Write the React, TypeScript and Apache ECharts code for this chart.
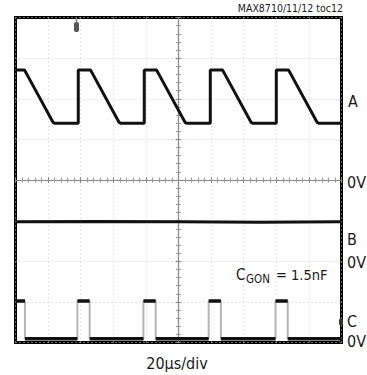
import React, { useEffect, useRef } from "react";
import * as echarts from "echarts";

// Time in µs relative to screen centre (10 div x 20µs/div), values in divisions
const aTimes = [-100, -94.5, -93, -77, -76, -61.5, -61.5, -54, -52.5, -36.5, -35.5, -21, -21, -13.5, -12, 4, 5, 19.5, 19.5, 27, 28.5, 44.5, 45.5, 60, 60, 67.5, 69, 85, 86, 100];
const aVolts = [2.71, 2.71, 2.6, 1.42, 1.4, 1.4, 2.71, 2.71, 2.6, 1.42, 1.4, 1.4, 2.71, 2.71, 2.6, 1.42, 1.4, 1.4, 2.71, 2.71, 2.6, 1.42, 1.4, 1.4, 2.71, 2.71, 2.6, 1.42, 1.4, 1.4];

const bTimes = [-100, -50, 0, 50, 100];
const bVolts = [-1.03, -1.02, -1.03, -1.04, -1.03];

const cTimes = [-100, -94.2, -94.2, -62, -62, -54.5, -54.5, -21.5, -21.5, -14, -14, 18.5, 18.5, 26, 26, 59.5, 59.5, 67, 67, 100];
const cVolts = [-2.98, -2.98, -3.91, -3.91, -2.98, -2.98, -3.91, -3.91, -2.98, -2.98, -3.91, -3.91, -2.98, -2.98, -3.91, -3.91, -2.98, -2.98, -3.91, -3.91];

const xTicks = { min: -100, max: 100, interval: 20 };
const yTicks = { min: -4, max: 4, interval: 1 };

const FONT = "'Liberation Sans Narrow', 'DejaVu Sans Condensed', 'Liberation Sans', Arial, sans-serif";

export default function App() {
  const ref = useRef<HTMLDivElement>(null);
  useEffect(() => {
    if (!ref.current) return;
    const chart = echarts.init(ref.current, undefined, { renderer: "svg" });

    const pairs = (ts: number[], vs: number[]) => ts.map((t, i) => [t, vs[i]]);
    // horizontal segments of C drawn in black, with gaps between
    const cFlat: any[] = [];
    for (let i = 0; i < cTimes.length - 1; i++) {
      if (cVolts[i] === cVolts[i + 1]) {
        cFlat.push([cTimes[i], cVolts[i]], [cTimes[i + 1], cVolts[i + 1]], [(cTimes[i + 1] + cTimes[i]) / 2 + 0.001, null]);
      }
    }

    const xAxisBase = (pos: string) => ({
      type: "value",
      position: pos,
      min: xTicks.min,
      max: xTicks.max,
      interval: xTicks.interval,
      axisLabel: { show: false },
      axisLine: { show: true, onZero: true, lineStyle: { color: "#8a8a8a", width: 1.2, type: [2, 1] } },
      axisTick: { show: true, length: 3, lineStyle: { color: "#8a8a8a" } },
      minorTick: { show: true, splitNumber: 5, length: 2.5, lineStyle: { color: "#9a9a9a" } },
      splitLine: { show: pos === "bottom", lineStyle: { color: "#cfcfcf", type: [1, 3], width: 1 } },
    });
    const yAxisBase = (pos: string) => ({
      type: "value",
      position: pos,
      min: yTicks.min,
      max: yTicks.max,
      interval: yTicks.interval,
      axisLabel: { show: false },
      axisLine: { show: true, onZero: true, lineStyle: { color: "#8a8a8a", width: 1.2, type: [2, 1] } },
      axisTick: { show: true, length: 3, lineStyle: { color: "#8a8a8a" } },
      minorTick: { show: true, splitNumber: 5, length: 2.5, lineStyle: { color: "#9a9a9a" } },
      splitLine: { show: pos === "left", lineStyle: { color: "#cfcfcf", type: [1, 3], width: 1 } },
    });

    const txt = (text: string, x: number, y: number, size: number, align = "left") => ({
      type: "text",
      x,
      y,
      z: 100,
      style: { text, font: `${size}px ${FONT}`, fill: "#1a1a1a", align, verticalAlign: "middle" },
    });

    chart.setOption({
      animation: false,
      backgroundColor: "#fff",
      grid: { left: 15.5, top: 17.5, width: 326, height: 325, show: true, borderColor: "#000", borderWidth: 3, backgroundColor: "#fff", z: 0 },
      xAxis: [xAxisBase("bottom"), xAxisBase("top")],
      yAxis: [yAxisBase("left"), yAxisBase("right")],
      series: [
        { type: "line", data: pairs(aTimes, aVolts), symbol: "none", lineStyle: { color: "#111", width: 3 }, z: 5 },
        { type: "line", data: pairs(bTimes, bVolts), symbol: "none", lineStyle: { color: "#111", width: 3 }, z: 5 },
        { type: "line", data: pairs(cTimes, cVolts), symbol: "none", lineStyle: { color: "#b5b5b5", width: 2 }, z: 4 },
        { type: "line", data: cFlat, symbol: "none", connectNulls: false, lineStyle: { color: "#111", width: 3.5 }, z: 5 },
      ],
      graphic: [
        txt("MAX8710/11/12 toc12", 343, 8, 10.5, "right"),
        txt("A", 348, 101, 16),
        txt("0V", 347, 182, 16),
        txt("B", 347, 239, 16),
        txt("0V", 347, 262, 16),
        txt("C", 347, 321, 16),
        txt("0V", 347, 341, 16),
        txt("C", 236, 274.5, 15),
        txt("GON", 246, 278.5, 11.5),
        txt("= 1.5nF", 276, 274.5, 14.5),
        txt("20µs/div", 177, 363, 16, "center"),
        { type: "rect", z: 100, shape: { x: 74, y: 22, width: 5, height: 10, r: 2 }, style: { fill: "#555" } },
        { type: "line", z: 100, shape: { x1: 76.5, y1: 17, x2: 76.5, y2: 23 }, style: { stroke: "#777", lineWidth: 1.5 } },
        { type: "rect", z: 100, shape: { x: 339, y: 319, width: 4, height: 6, r: 1 }, style: { fill: "#333" } },
      ],
    });
    return () => chart.dispose();
  }, []);
  return <div ref={ref} style={{ position: "fixed", left: 0, top: 0, width: 367, height: 375 }} />;
}
